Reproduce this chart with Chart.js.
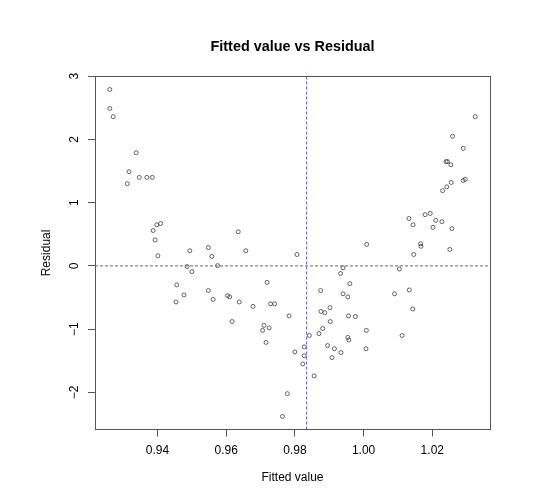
<!DOCTYPE html>
<html>
<head>
<meta charset="utf-8">
<title>Fitted value vs Residual</title>
<script src="https://cdn.jsdelivr.net/npm/chart.js@4.4.1/dist/chart.umd.min.js"></script>
<style>
  html, body { margin: 0; padding: 0; background: #fff; }
  #wrap { width: 560px; height: 500px; }
</style>
</head>
<body>
<div id="wrap"><canvas id="residChart" width="560" height="500"></canvas></div>
<script>
// Residual diagnostic: fitted values (x) against residuals (y)
const fittedValues = [
  0.9261, 0.9261, 0.9271, 0.9338, 0.9317, 0.9347, 0.9369, 0.9385, 0.9312, 0.9398,
  0.9409, 0.9387, 0.9393, 0.9401, 0.9494, 0.9548, 0.9558, 0.9486, 0.9500, 0.9575,
  0.9456, 0.9477, 0.9454, 0.9548, 0.9562, 0.9604, 0.9610, 0.9635, 0.9657, 0.9806,
  0.9638, 0.9719, 0.9678, 0.9729, 0.9741, 0.9617, 0.9710, 0.9725, 0.9706, 0.9716,
  0.9783, 0.9842, 0.9870, 0.9881, 0.9827, 0.9800, 0.9827, 0.9823, 0.9856, 0.9778,
  0.9764, 0.9895, 0.9915, 0.9934, 0.9908, 0.9954, 0.9957, 1.0008, 1.0007, 0.9940,
  0.9933, 0.9960, 0.9875, 0.9940, 0.9954, 0.9876, 0.9887, 0.9902, 0.9903, 0.9956,
  0.9976, 1.0009, 1.0104, 1.0090, 1.0133, 1.0143, 1.0112, 1.0166, 1.0167, 1.0146,
  1.0251, 1.0144, 1.0202, 1.0257, 1.0210, 1.0228, 1.0132, 1.0179, 1.0194, 1.0230,
  1.0242, 1.0255, 1.0290, 1.0296, 1.0240, 1.0244, 1.0254, 1.0290, 1.0259, 1.0325,
];
const residuals = [
  2.79, 2.49, 2.36, 1.79, 1.49, 1.40, 1.40, 1.40, 1.30, 0.65,
  0.67, 0.56, 0.41, 0.16, 0.24, 0.29, 0.15, -0.01, -0.09, 0.005,
  -0.30, -0.46, -0.57, -0.39, -0.53, -0.47, -0.49, 0.54, 0.24, 0.18,
  -0.57, -0.26, -0.64, -0.60, -0.60, -0.88, -0.94, -0.98, -1.02, -1.21,
  -0.79, -1.10, -1.07, -0.99, -1.28, -1.36, -1.42, -1.55, -1.74, -2.02,
  -2.38, -1.26, -1.31, -1.37, -1.45, -1.13, -1.17, -1.02, -1.31, -0.03,
  -0.12, -0.28, -0.39, -0.44, -0.49, -0.72, -0.74, -0.66, -0.88, -0.79,
  -0.80, 0.34, -0.05, -0.44, -0.38, -0.68, -1.10, 0.35, 0.31, 0.18,
  0.26, 0.65, 0.61, 0.59, 0.72, 0.70, 0.75, 0.81, 0.83, 1.19,
  1.25, 1.32, 1.35, 1.37, 1.65, 1.65, 1.60, 1.86, 2.05, 2.36,
];

const xTickValues = [0.94, 0.96, 0.98, 1.0, 1.02];
const xTickLabels = ["0.94", "0.96", "0.98", "1.00", "1.02"];
const yTickValues = [-2, -1, 0, 1, 2, 3];
const yTickLabels = ["\u22122", "\u22121", "0", "1", "2", "3"];
const xLimits = [0.9218, 1.0368];
const yLimits = [-2.587, 2.997];

// reference lines: residual = 0 and the mean fitted value
const zeroLevel = 0;
const meanFitted = 0.9834;

const FONT = "'Liberation Sans', Arial, Helvetica, sans-serif";
const AXIS_COLOR = "#555";

function fixSize(prop, size) {
  return (scale) => {
    scale[prop] = size;
  };
}

function setTicks(values) {
  return (scale) => {
    scale.ticks = values.map((value) => ({ value }));
  };
}

function labelFor(values, labels) {
  return (value) => {
    const i = values.findIndex((v) => Math.abs(v - value) < 1e-9);
    return i >= 0 ? labels[i] : "";
  };
}

const points = fittedValues.map((x, i) => ({ x, y: residuals[i] }));

const tickFont = { family: FONT, size: 12 };

new Chart(document.getElementById("residChart"), {
  type: "scatter",
  data: {
    datasets: [
      {
        type: "line",
        data: [
          { x: meanFitted, y: yLimits[0] },
          { x: meanFitted, y: yLimits[1] },
        ],
        borderColor: "#5b5bff",
        borderWidth: 1,
        borderDash: [3, 2],
        pointRadius: 0,
        fill: false,
      },
      {
        type: "line",
        data: [
          { x: xLimits[0], y: zeroLevel },
          { x: xLimits[1], y: zeroLevel },
        ],
        borderColor: "#666",
        borderWidth: 1,
        borderDash: [3, 2],
        pointRadius: 0,
        fill: false,
      },
      {
        data: points,
        pointRadius: 2,
        borderWidth: 0.75,
        borderColor: "#333",
        backgroundColor: "rgba(0,0,0,0)",
      },
    ],
  },
  options: {
    responsive: false,
    animation: false,
    devicePixelRatio: 1,
    layout: { padding: 0 },
    plugins: {
      legend: { display: false },
      tooltip: { enabled: false },
    },
    scales: {
      x: {
        type: "linear",
        position: "bottom",
        min: xLimits[0],
        max: xLimits[1],
        afterBuildTicks: setTicks(xTickValues),
        afterFit: fixSize("height", 70.5),
        ticks: {
          color: "#000",
          font: tickFont,
          padding: 7,
          maxRotation: 0,
          autoSkip: false,
          callback: labelFor(xTickValues, xTickLabels),
        },
        grid: { drawOnChartArea: false, tickLength: 7, color: AXIS_COLOR },
        border: { display: true, color: AXIS_COLOR, width: 1 },
        title: {
          display: true,
          text: "Fitted value",
          color: "#000",
          font: { family: FONT, size: 12 },
          padding: { top: 0, bottom: 14.8 },
        },
      },
      xTop: {
        type: "linear",
        position: "top",
        min: xLimits[0],
        max: xLimits[1],
        afterFit: fixSize("height", 76.4),
        ticks: { display: false },
        grid: { display: false },
        border: { display: true, color: AXIS_COLOR, width: 1 },
        title: {
          display: true,
          text: "Fitted value vs Residual",
          color: "#000",
          font: { family: FONT, size: 14.4, weight: "bold" },
          padding: { top: 38.6, bottom: 0 },
        },
      },
      y: {
        type: "linear",
        position: "left",
        min: yLimits[0],
        max: yLimits[1],
        afterBuildTicks: setTicks(yTickValues),
        afterFit: fixSize("width", 95),
        ticks: {
          color: "#000",
          font: tickFont,
          padding: 6,
          minRotation: 90,
          maxRotation: 90,
          crossAlign: "center",
          autoSkip: false,
          callback: labelFor(yTickValues, yTickLabels),
        },
        grid: { drawOnChartArea: false, tickLength: 7, color: AXIS_COLOR },
        border: { display: true, color: AXIS_COLOR, width: 1 },
        title: {
          display: true,
          text: "Residual",
          color: "#000",
          font: { family: FONT, size: 12 },
          padding: { top: 39.8, bottom: 0 },
        },
      },
      yRight: {
        type: "linear",
        position: "right",
        min: yLimits[0],
        max: yLimits[1],
        afterFit: fixSize("width", 70),
        ticks: { display: false },
        grid: { display: false },
        border: { display: true, color: AXIS_COLOR, width: 1 },
      },
    },
  },
});
</script>
</body>
</html>
